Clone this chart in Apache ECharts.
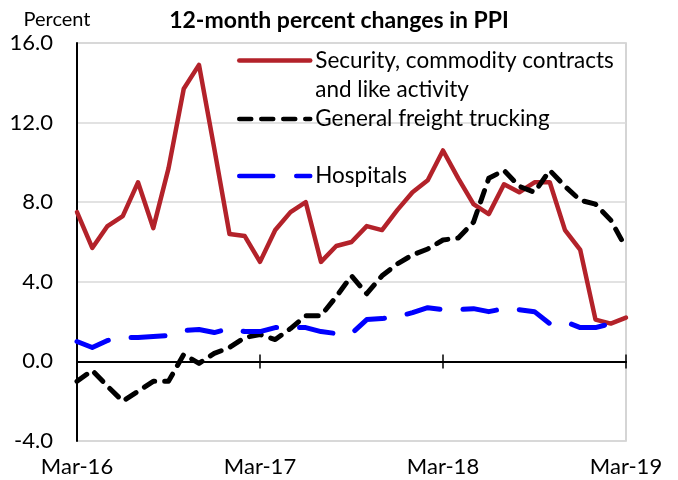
<!DOCTYPE html>
<html><head><meta charset="utf-8">
<script src="https://cdn.jsdelivr.net/npm/echarts@6/dist/echarts.min.js"></script>
<style>html,body{margin:0;padding:0;background:#fff}#c{width:678px;height:480px}</style>
</head><body><div id="c"></div>
<script>
const months = ['Mar-16','Apr-16','May-16','Jun-16','Jul-16','Aug-16','Sep-16','Oct-16','Nov-16','Dec-16','Jan-17','Feb-17',
  'Mar-17','Apr-17','May-17','Jun-17','Jul-17','Aug-17','Sep-17','Oct-17','Nov-17','Dec-17','Jan-18','Feb-18',
  'Mar-18','Apr-18','May-18','Jun-18','Jul-18','Aug-18','Sep-18','Oct-18','Nov-18','Dec-18','Jan-19','Feb-19','Mar-19'];
const security = [7.5,5.7,6.8,7.3,9.0,6.7,9.7,13.7,14.9,10.7,6.4,6.3,
  5.0,6.6,7.5,8.0,5.0,5.8,6.0,6.8,6.6,7.6,8.5,9.1,
  10.6,9.2,7.9,7.4,8.9,8.5,9.0,9.0,6.6,5.6,2.1,1.9,2.2];
const trucking = [-1.0,-0.45,-1.25,-2.0,-1.5,-1.0,-1.0,0.35,-0.1,0.4,0.7,1.2,
  1.35,1.1,1.65,2.3,2.3,3.25,4.3,3.4,4.3,4.9,5.35,5.65,
  6.1,6.2,7.0,9.2,9.6,8.8,8.5,9.6,8.8,8.1,7.9,7.1,5.7];
const hospitals = [1.0,0.7,1.05,1.2,1.2,1.25,1.3,1.55,1.6,1.45,1.65,1.5,
  1.5,1.7,1.7,1.7,1.5,1.4,1.4,2.1,2.15,2.25,2.45,2.7,
  2.6,2.6,2.65,2.5,2.65,2.6,2.5,1.9,2.0,1.7,1.7,1.9,1.6];
const seriesNames = ['Security, commodity contracts and like activity','General freight trucking','Hospitals'];
const legendLabels = ['\nSecurity, commodity contracts\nand like activity','General freight trucking','Hospitals'];
const yMin = -4, yMax = 16, yStep = 4;

const FONT = 'Lato';
const chart = echarts.init(document.getElementById('c'), null, {renderer:'canvas'});
const legendBase = (i, top) => ({
  data: [seriesNames[i]], left: 237, top: top, orient: 'vertical', padding: 0,
  itemWidth: 71, itemHeight: 14, selectedMode: false,
  itemStyle: {opacity: 0},
  lineStyle: {width: 4.5},
  formatter: () => legendLabels[i],
  textStyle: {fontFamily: FONT, fontSize: 22.5, color: '#000', lineHeight: 29}
});
const zeroAxis = (inside) => ({
  type: 'category', data: months, boundaryGap: false, position: 'bottom',
  axisLine: {show: true, onZero: true, onZeroAxisIndex: 0, lineStyle: {color: '#000', width: 2}},
  axisTick: {show: true, inside: inside, interval: 11, length: 7, lineStyle: {color: '#000', width: 1.5}},
  axisLabel: {show: false}, splitLine: {show: false}
});
chart.setOption({
  animation: false,
  backgroundColor: '#fff',
  title: {text: '12-month percent changes in PPI', left: 'center', top: 4,
    textStyle: {fontFamily: FONT, fontWeight: 'bold', fontSize: 23, color: '#000'}},
  legend: [legendBase(0, 17), legendBase(1, 104.5), legendBase(2, 161.5)],
  grid: {left: 77, right: 52, top: 43, bottom: 39, containLabel: false, show: true, borderColor: '#C8C8C8', borderWidth: 1.5},
  xAxis: [
    {type: 'category', data: months, boundaryGap: false, position: 'bottom',
      axisLine: {show: false, onZero: false}, axisTick: {show: false},
      axisLabel: {interval: 11, fontFamily: FONT, fontSize: 22, color: '#000', margin: 15},
      splitLine: {show: false}},
    zeroAxis(false), zeroAxis(true)
  ],
  yAxis: {type: 'value', min: yMin, max: yMax, interval: yStep,
    name: 'Percent', nameLocation: 'end', nameGap: 13,
    nameTextStyle: {fontFamily: FONT, fontSize: 20, color: '#000', align: 'center', padding: [0, 40, 0, 0]},
    axisLine: {show: true, onZero: false, lineStyle: {color: '#000', width: 2}},
    axisTick: {show: false},
    axisLabel: {formatter: v => v.toFixed(1), fontFamily: FONT, fontSize: 22, color: '#000', margin: 24},
    splitLine: {show: true, lineStyle: {color: '#D9D9D9', width: 1.5}}},
  series: [
    {name: seriesNames[0], type: 'line', data: security, symbol: 'none',
      lineStyle: {color: '#B3222A', width: 4.5, cap: 'round', join: 'round'}, itemStyle: {color: '#B3222A'}},
    {name: seriesNames[1], type: 'line', data: trucking, symbol: 'none',
      lineStyle: {color: '#000', width: 5, type: [12, 10], cap: 'round', join: 'round'}, itemStyle: {color: '#000'}},
    {name: seriesNames[2], type: 'line', data: hospitals, symbol: 'none',
      lineStyle: {color: '#0000FF', width: 5, type: [34, 23], cap: 'round', join: 'round'}, itemStyle: {color: '#0000FF'}}
  ]
});
</script></body></html>
